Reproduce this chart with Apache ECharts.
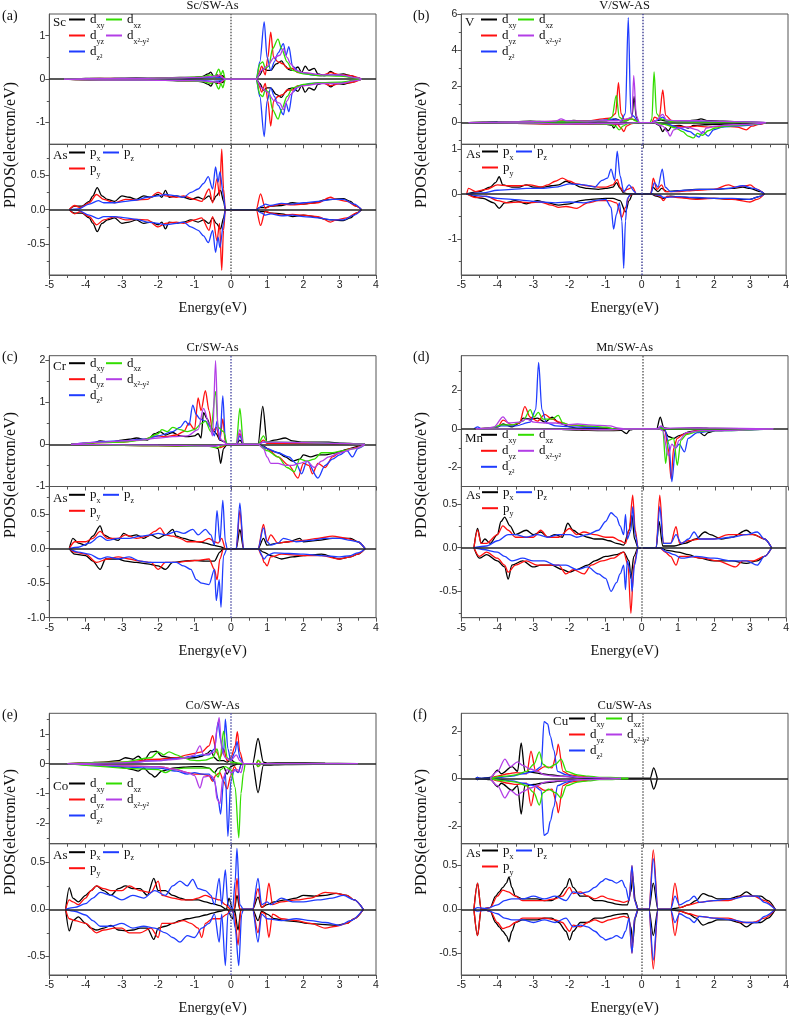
<!DOCTYPE html>
<html><head><meta charset="utf-8">
<script src="https://cdn.jsdelivr.net/npm/echarts@6.0.0/dist/echarts.min.js"></script>
<style>html,body{margin:0;padding:0;background:#fff}#c{width:792px;height:1016px}</style>
</head><body><div id="c"></div><script>
// ---------- x-axis tick labels ----------
const energyTicks = [-5,-4,-3,-2,-1,0,1,2,3,4];

// ---------- (a) Sc/SW-As (spin-symmetric: down is mirror of up) ----------
const scDxy = [[-4.6,0],[-4.2,0.01],[-3.8,0.02],[-3.4,0.01],[-3.0,0.02],[-2.6,0.03],[-2.2,0.02],[-1.8,0.03],[-1.4,0.04],[-1.0,0.04],[-0.8,0.06],[-0.62,0.12],[-0.55,0.16],[-0.47,0.06],[-0.38,0.1],[-0.3,0.05],[-0.22,0.08],[-0.15,0],[0.7,0],[0.8,0.1],[0.9,0.25],[1.0,0.2],[1.1,0.2],[1.25,0.35],[1.4,0.42],[1.5,0.3],[1.6,0.22],[1.7,0.2],[1.85,0.28],[1.95,0.15],[2.05,0.3],[2.15,0.2],[2.3,0.25],[2.4,0.12],[2.6,0.08],[2.75,0.18],[2.9,0.1],[3.1,0.12],[3.3,0.08],[3.5,0.03],[3.6,0]];
const scDyz = [[-4.6,0],[-3.5,0.02],[-2.5,0.02],[-1.5,0.03],[-0.8,0.04],[-0.55,0.06],[-0.4,0.05],[-0.3,0.1],[-0.22,0.04],[-0.15,0],[0.7,0],[0.78,0.15],[0.85,0.3],[0.95,0.1],[1.02,0.5],[1.1,1.08],[1.18,0.5],[1.3,0.4],[1.45,0.35],[1.55,0.25],[1.7,0.25],[1.85,0.15],[2.0,0.15],[2.3,0.1],[2.5,0.08],[2.75,0.15],[3.0,0.1],[3.3,0.08],[3.6,0]];
const scDxz = [[-4.6,0],[-3.5,0.02],[-2.5,0.02],[-1.5,0.03],[-0.8,0.05],[-0.55,0.1],[-0.45,0.05],[-0.33,0.23],[-0.27,0.1],[-0.22,0.2],[-0.15,0],[0.7,0],[0.8,0.35],[0.88,0.4],[0.95,0.25],[1.05,0.3],[1.15,0.7],[1.3,0.92],[1.4,0.7],[1.55,0.4],[1.7,0.2],[2.0,0.12],[2.5,0.08],[3.0,0.07],[3.5,0.02],[3.6,0]];
const scDz2 = [[-4.6,0],[-3.5,0.01],[-2.5,0.02],[-1.5,0.02],[-0.8,0.03],[-0.5,0.05],[-0.3,0.04],[-0.15,0],[0.7,0],[0.8,0.4],[0.92,1.32],[1.0,0.5],[1.1,0.2],[1.2,0.4],[1.3,0.6],[1.45,0.82],[1.52,0.55],[1.6,0.75],[1.7,0.3],[1.9,0.15],[2.2,0.1],[2.5,0.08],[2.8,0.1],[3.1,0.08],[3.4,0.03],[3.6,0]];
const scDx2y2 = [[-4.6,0],[-3.5,0.02],[-2.5,0.02],[-1.5,0.03],[-0.8,0.04],[-0.5,0.06],[-0.3,0.08],[-0.22,0.03],[-0.15,0],[0.7,0],[0.85,0.2],[1.0,0.3],[1.2,0.5],[1.35,0.55],[1.45,0.7],[1.55,0.5],[1.65,0.35],[1.8,0.2],[2.0,0.15],[2.5,0.1],[3.0,0.1],[3.5,0.03],[3.6,0]];
const scPx = [[-4.45,0],[-4.3,0.05],[-4.1,0.05],[-3.9,0.12],[-3.8,0.2],[-3.68,0.32],[-3.55,0.2],[-3.4,0.15],[-3.2,0.12],[-3.0,0.2],[-2.8,0.18],[-2.6,0.15],[-2.4,0.2],[-2.2,0.18],[-2.0,0.22],[-1.9,0.18],[-1.8,0.28],[-1.7,0.18],[-1.5,0.2],[-1.3,0.18],[-1.1,0.15],[-0.9,0.18],[-0.75,0.15],[-0.6,0.2],[-0.5,0.12],[-0.4,0.2],[-0.28,0.28],[-0.2,0.12],[-0.15,0],[0.7,0],[0.8,0.03],[0.95,0.03],[1.1,0.05],[1.4,0.06],[1.7,0.1],[2.0,0.08],[2.3,0.1],[2.6,0.14],[2.8,0.15],[3.1,0.16],[3.3,0.12],[3.45,0.05],[3.6,0]];
const scPy = [[-4.45,0],[-4.3,0.06],[-4.15,0.03],[-3.9,0.1],[-3.7,0.22],[-3.5,0.15],[-3.2,0.1],[-2.9,0.15],[-2.6,0.14],[-2.3,0.15],[-2.0,0.25],[-1.8,0.2],[-1.5,0.18],[-1.3,0.2],[-1.0,0.15],[-0.8,0.12],[-0.6,0.3],[-0.5,0.1],[-0.38,0.45],[-0.31,0.2],[-0.25,0.88],[-0.2,0.3],[-0.15,0],[0.7,0],[0.82,0.23],[0.95,0.02],[1.1,0.05],[1.4,0.08],[1.7,0.07],[2.0,0.08],[2.4,0.1],[2.75,0.18],[2.9,0.15],[3.2,0.12],[3.45,0.05],[3.6,0]];
const scPz = [[-4.45,0],[-4.2,0.01],[-3.9,0.08],[-3.65,0.13],[-3.5,0.1],[-3.2,0.1],[-2.9,0.12],[-2.6,0.14],[-2.3,0.18],[-2.0,0.2],[-1.8,0.22],[-1.5,0.2],[-1.3,0.18],[-1.1,0.25],[-0.9,0.3],[-0.75,0.38],[-0.62,0.48],[-0.5,0.3],[-0.42,0.62],[-0.35,0.4],[-0.3,0.55],[-0.2,0.2],[-0.15,0],[0.7,0],[0.85,0.05],[0.95,0.08],[1.1,0.06],[1.4,0.09],[1.7,0.08],[2.0,0.1],[2.4,0.12],[2.8,0.15],[3.1,0.15],[3.4,0.08],[3.6,0]];

// ---------- (b) V/SW-AS ----------
const vDxy = [[-4.8,0],[-4.4,0.03],[-4.0,0.05],[-3.5,0.05],[-3.1,0.08],[-2.6,0.05],[-2.2,0.08],[-1.9,0.12],[-1.6,0.08],[-1.3,0.05],[-1.0,0.1],[-0.85,0.15],[-0.75,0.2],[-0.6,0.1],[-0.45,0.1],[-0.3,0.3],[-0.24,1.45],[-0.18,0.3],[-0.1,0],[0.25,0],[0.35,0.1],[0.5,0.15],[0.6,0.1],[0.8,0.05],[1.2,0.08],[1.5,0.15],[1.6,0.2],[1.8,0.1],[2.2,0.08],[2.6,0.05],[3.0,0.03],[3.4,0]];
const vDyz = [[-4.8,0],[-4.0,0.03],[-3.0,0.05],[-2.0,0.08],[-1.5,0.1],[-1.1,0.2],[-0.9,0.25],[-0.75,0.5],[-0.67,2.2],[-0.6,0.5],[-0.5,0.15],[-0.35,0.2],[-0.2,0.15],[-0.1,0],[0.25,0],[0.32,0.3],[0.45,0.2],[0.55,1.8],[0.63,0.4],[0.8,0.1],[1.5,0.05],[2.5,0.03],[3.4,0]];
const vDxz = [[-4.8,0],[-4.0,0.02],[-3.0,0.03],[-2.0,0.05],[-1.4,0.08],[-1.0,0.1],[-0.85,0.3],[-0.73,1.5],[-0.65,0.3],[-0.5,0.1],[-0.3,0.2],[-0.2,0.1],[-0.1,0],[0.2,0],[0.25,0.2],[0.31,2.8],[0.38,0.5],[0.5,0.2],[0.6,0.15],[0.8,0.05],[1.5,0.03],[3.4,0]];
const vDz2 = [[-4.8,0],[-4.0,0.03],[-3.0,0.03],[-2.0,0.05],[-1.4,0.08],[-1.0,0.15],[-0.8,0.2],[-0.6,0.1],[-0.48,0.5],[-0.4,5.8],[-0.33,0.5],[-0.25,0.35],[-0.15,0.1],[-0.1,0],[0.25,0],[0.35,0.1],[0.55,0.3],[0.65,0.1],[1.0,0.05],[2.0,0.05],[3.4,0]];
const vDx2y2 = [[-4.8,0],[-4.0,0.03],[-3.0,0.05],[-2.4,0.08],[-2.25,0.2],[-2.1,0.1],[-1.5,0.08],[-1.0,0.1],[-0.7,0.1],[-0.55,0.15],[-0.45,0.2],[-0.3,0.3],[-0.25,2.6],[-0.18,0.4],[-0.1,0],[0.25,0],[0.35,0.1],[0.55,0.45],[0.65,0.15],[0.9,0.1],[1.5,0.1],[2.0,0.08],[2.5,0.05],[3.4,0]];
const vDxyDn = [[-4.8,0],[-4.0,-0.03],[-3.0,-0.05],[-2.0,-0.08],[-1.5,-0.08],[-1.0,-0.1],[-0.85,-0.15],[-0.8,-0.3],[-0.72,-0.1],[-0.5,-0.05],[-0.3,-0.02],[-0.1,0],[0.3,0],[0.45,-0.15],[0.55,-0.5],[0.62,-0.3],[0.7,-0.45],[0.8,-0.2],[1.0,-0.15],[1.25,-0.3],[1.4,-0.15],[1.7,-0.12],[2.0,-0.1],[2.5,-0.08],[3.0,-0.05],[3.4,0]];
const vDyzDn = [[-4.8,0],[-4.0,-0.03],[-3.0,-0.05],[-2.0,-0.08],[-1.0,-0.08],[-0.7,-0.1],[-0.6,-0.3],[-0.52,-0.5],[-0.45,-0.2],[-0.3,-0.05],[-0.1,0],[0.3,0],[0.6,-0.1],[0.9,-0.2],[1.2,-0.25],[1.5,-0.2],[1.8,-0.25],[2.2,-0.2],[2.6,-0.25],[2.85,-0.4],[3.0,-0.2],[3.2,-0.1],[3.4,0]];
const vDxzDn = [[-4.8,0],[-3.0,-0.03],[-1.5,-0.05],[-0.9,-0.1],[-0.75,-0.2],[-0.65,-0.4],[-0.55,-0.2],[-0.4,-0.05],[-0.1,0],[0.3,0],[0.6,-0.1],[0.9,-0.3],[1.1,-0.5],[1.25,-0.75],[1.4,-0.85],[1.5,-0.6],[1.65,-0.7],[1.8,-0.45],[2.0,-0.3],[2.3,-0.2],[2.6,-0.15],[3.0,-0.1],[3.4,0]];
const vDz2Dn = [[-4.8,0],[-3.0,-0.03],[-1.5,-0.05],[-0.7,-0.05],[-0.1,0],[0.3,0],[0.7,-0.1],[1.0,-0.3],[1.3,-0.5],[1.45,-0.7],[1.55,-0.8],[1.65,-0.5],[1.8,-0.75],[1.95,-0.4],[2.2,-0.25],[2.5,-0.2],[2.9,-0.15],[3.2,-0.08],[3.4,0]];
const vDx2y2Dn = [[-4.8,0],[-3.0,-0.03],[-2.2,-0.08],[-1.5,-0.05],[-0.7,-0.05],[-0.1,0],[0.3,0],[0.55,-0.2],[0.68,-0.5],[0.75,-0.75],[0.85,-0.4],[1.0,-0.3],[1.2,-0.25],[1.5,-0.4],[1.65,-0.6],[1.75,-0.3],[2.0,-0.2],[2.5,-0.12],[3.0,-0.08],[3.4,0]];
const vPx = [[-4.85,0],[-4.5,0.05],[-4.2,0.15],[-4.05,0.25],[-3.95,0.38],[-3.85,0.2],[-3.6,0.15],[-3.4,0.15],[-3.2,0.2],[-3.0,0.15],[-2.7,0.15],[-2.5,0.18],[-2.3,0.2],[-2.1,0.28],[-1.9,0.22],[-1.7,0.15],[-1.5,0.12],[-1.2,0.1],[-1.0,0.12],[-0.8,0.15],[-0.7,0.25],[-0.6,0.12],[-0.5,0.02],[-0.4,0],[0.25,0],[0.3,0.15],[0.45,0.05],[0.55,0.12],[0.7,0.05],[1.0,0.07],[1.5,0.1],[2.0,0.1],[2.5,0.12],[2.8,0.15],[3.0,0.12],[3.3,0.05],[3.4,0]];
const vPy = [[-4.85,0],[-4.8,0.12],[-4.6,0.05],[-4.3,0.1],[-4.0,0.2],[-3.7,0.18],[-3.4,0.18],[-3.1,0.2],[-2.8,0.15],[-2.6,0.2],[-2.4,0.28],[-2.2,0.35],[-2.0,0.28],[-1.8,0.22],[-1.5,0.18],[-1.2,0.15],[-1.0,0.15],[-0.8,0.2],[-0.68,0.32],[-0.6,0.15],[-0.5,0.05],[-0.4,0.1],[-0.25,0.15],[-0.15,0],[0.25,0],[0.32,0.35],[0.42,0.1],[0.55,0.2],[0.65,0.05],[1.0,0.05],[1.5,0.08],[2.0,0.1],[2.4,0.2],[2.6,0.15],[2.9,0.18],[3.0,0.2],[3.2,0.1],[3.4,0]];
const vPz = [[-4.85,0],[-4.4,0.02],[-4.0,0.08],[-3.6,0.1],[-3.2,0.12],[-2.8,0.12],[-2.4,0.15],[-2.0,0.22],[-1.6,0.2],[-1.3,0.15],[-1.1,0.3],[-0.95,0.35],[-0.85,0.55],[-0.75,0.3],[-0.68,0.95],[-0.6,0.4],[-0.5,0.05],[-0.35,0.2],[-0.2,0.05],[-0.15,0],[0.25,0],[0.35,0.25],[0.45,0.15],[0.57,0.55],[0.65,0.15],[0.8,0.05],[1.2,0.08],[1.6,0.1],[2.0,0.1],[2.4,0.12],[2.8,0.18],[3.1,0.12],[3.4,0]];
const vPxDn = [[-4.85,0],[-4.4,-0.1],[-4.1,-0.2],[-3.95,-0.32],[-3.8,-0.2],[-3.5,-0.15],[-3.2,-0.22],[-2.9,-0.15],[-2.6,-0.2],[-2.3,-0.25],[-2.0,-0.22],[-1.7,-0.15],[-1.4,-0.12],[-1.0,-0.1],[-0.8,-0.1],[-0.6,-0.15],[-0.45,-0.4],[-0.35,-0.15],[-0.25,0],[0.25,0],[0.4,-0.05],[0.6,-0.1],[0.8,-0.05],[1.2,-0.08],[1.6,-0.1],[2.0,-0.1],[2.5,-0.12],[3.0,-0.12],[3.3,-0.05],[3.4,0]];
const vPyDn = [[-4.85,0],[-4.6,-0.08],[-4.3,-0.05],[-4.0,-0.15],[-3.7,-0.2],[-3.4,-0.18],[-3.1,-0.2],[-2.8,-0.18],[-2.5,-0.25],[-2.3,-0.3],[-2.1,-0.28],[-1.8,-0.32],[-1.5,-0.2],[-1.2,-0.15],[-0.9,-0.15],[-0.7,-0.2],[-0.55,-0.52],[-0.45,-0.3],[-0.35,-0.05],[-0.25,0],[0.25,0],[0.5,-0.05],[0.6,-0.15],[0.7,-0.05],[1.0,-0.08],[1.5,-0.12],[2.0,-0.1],[2.5,-0.12],[3.0,-0.18],[3.2,-0.12],[3.4,0]];
const vPzDn = [[-4.85,0],[-4.4,-0.05],[-4.0,-0.1],[-3.6,-0.12],[-3.2,-0.15],[-2.8,-0.18],[-2.4,-0.2],[-2.0,-0.18],[-1.6,-0.2],[-1.3,-0.15],[-1.0,-0.12],[-0.85,-0.3],[-0.78,-0.78],[-0.7,-0.45],[-0.62,-0.2],[-0.55,-0.6],[-0.5,-1.65],[-0.45,-0.6],[-0.4,-0.1],[-0.3,0],[0.25,0],[0.5,-0.03],[0.6,-0.08],[1.0,-0.06],[1.5,-0.08],[2.0,-0.1],[2.5,-0.1],[3.0,-0.12],[3.3,-0.05],[3.4,0]];

// ---------- (c) Cr/SW-As ----------
const crDxy = [[-4.4,0],[-3.8,0.03],[-3.6,0.08],[-3.3,0.05],[-3.0,0.1],[-2.8,0.12],[-2.6,0.15],[-2.3,0.1],[-2.1,0.25],[-1.95,0.3],[-1.8,0.22],[-1.6,0.28],[-1.4,0.2],[-1.2,0.18],[-1.0,0.2],[-0.9,0.25],[-0.82,0.15],[-0.75,0.75],[-0.65,0.6],[-0.55,0.4],[-0.45,0.3],[-0.4,0.25],[-0.3,0.1],[-0.15,0.05],[-0.1,0],[0.15,0],[0.25,0.1],[0.35,0],[0.75,0],[0.88,0.9],[1.0,0.05],[1.2,0.1],[1.5,0.15],[1.7,0.08],[2.0,0.05],[2.7,0.05],[3.0,0.03],[3.7,0]];
const crDyz = [[-4.4,0],[-3.0,0.05],[-2.5,0.1],[-2.0,0.2],[-1.8,0.18],[-1.5,0.22],[-1.3,0.3],[-1.15,0.5],[-1.0,0.35],[-0.9,1.1],[-0.82,0.8],[-0.7,1.27],[-0.6,0.8],[-0.5,0.3],[-0.4,0.4],[-0.3,0.1],[-0.22,0.6],[-0.15,0.05],[-0.1,0],[0.15,0],[0.25,0.25],[0.35,0],[0.75,0],[0.9,0.1],[1.0,0.02],[3.7,0]];
const crDxz = [[-4.4,0],[-3.0,0.05],[-2.4,0.1],[-2.0,0.25],[-1.9,0.35],[-1.75,0.3],[-1.6,0.4],[-1.4,0.35],[-1.2,0.3],[-1.0,0.35],[-0.8,0.5],[-0.7,0.55],[-0.55,0.3],[-0.42,1.25],[-0.35,0.4],[-0.2,0.3],[-0.1,0],[0.15,0],[0.25,0.85],[0.35,0],[0.75,0],[0.9,0.2],[1.0,0.05],[3.7,0]];
const crDz2 = [[-4.4,0],[-3.0,0.08],[-2.4,0.12],[-2.0,0.2],[-1.6,0.3],[-1.4,0.4],[-1.25,0.55],[-1.15,0.45],[-1.05,0.93],[-0.95,0.7],[-0.85,0.6],[-0.7,0.55],[-0.55,0.4],[-0.45,0.2],[-0.38,0.55],[-0.3,0.1],[-0.22,1.15],[-0.15,0.1],[-0.1,0],[0.15,0],[0.25,0.2],[0.35,0],[0.75,0],[0.9,0.05],[3.7,0]];
const crDx2y2 = [[-4.4,0],[-3.6,0.05],[-3.0,0.08],[-2.5,0.1],[-2.0,0.15],[-1.6,0.18],[-1.2,0.2],[-0.9,0.35],[-0.75,0.85],[-0.6,0.5],[-0.5,0.2],[-0.42,1.98],[-0.35,0.3],[-0.25,0.1],[-0.1,0],[0.15,0],[0.25,0.35],[0.35,0],[0.75,0],[0.9,0.05],[3.7,0]];
const crDxyDn = [[-4.4,0],[-2.0,-0.03],[-1.0,-0.05],[-0.5,-0.05],[-0.35,-0.1],[-0.28,-0.45],[-0.2,-0.1],[-0.1,0],[0.75,0],[0.9,-0.05],[1.1,-0.15],[1.3,-0.2],[1.5,-0.3],[1.7,-0.4],[1.9,-0.35],[2.0,-0.25],[2.2,-0.3],[2.4,-0.25],[2.6,-0.25],[2.9,-0.2],[3.2,-0.12],[3.5,-0.05],[3.7,0]];
const crDyzDn = [[-4.4,0],[-2.0,-0.03],[-0.5,-0.05],[-0.3,-0.08],[-0.2,-0.05],[-0.1,0],[0.75,0],[1.0,-0.1],[1.3,-0.3],[1.6,-0.5],[1.85,-0.8],[2.0,-0.45],[2.15,-0.5],[2.25,-0.7],[2.4,-0.45],[2.6,-0.55],[2.8,-0.3],[3.0,-0.2],[3.3,-0.1],[3.7,0]];
const crDxzDn = [[-4.4,0],[-2.0,-0.03],[-0.6,-0.05],[-0.4,-0.08],[-0.1,0],[0.75,0],[1.0,-0.15],[1.3,-0.3],[1.55,-0.55],[1.75,-0.65],[1.9,-0.35],[2.1,-0.4],[2.3,-0.35],[2.5,-0.2],[2.8,-0.2],[3.1,-0.15],[3.4,-0.1],[3.7,0]];
const crDz2Dn = [[-4.4,0],[-2.0,-0.02],[-0.5,-0.04],[-0.1,0],[0.75,0],[1.0,-0.1],[1.3,-0.2],[1.6,-0.3],[1.8,-0.45],[1.95,-0.7],[2.1,-0.4],[2.4,-0.8],[2.6,-0.5],[2.8,-0.35],[3.0,-0.25],[3.2,-0.15],[3.35,-0.3],[3.5,-0.1],[3.7,0]];
const crDx2y2Dn = [[-4.4,0],[-2.0,-0.02],[-0.5,-0.04],[-0.1,0],[0.75,0],[0.9,-0.1],[1.0,-0.3],[1.1,-0.45],[1.3,-0.45],[1.5,-0.5],[1.7,-0.5],[1.9,-0.45],[2.1,-0.4],[2.3,-0.55],[2.5,-0.4],[2.7,-0.3],[3.0,-0.2],[3.4,-0.1],[3.7,0]];
const crPx = [[-4.45,0],[-4.35,0.15],[-4.2,0.08],[-4.0,0.05],[-3.8,0.18],[-3.6,0.33],[-3.5,0.2],[-3.3,0.15],[-3.1,0.12],[-2.95,0.22],[-2.8,0.18],[-2.6,0.2],[-2.4,0.15],[-2.2,0.2],[-2.0,0.15],[-1.8,0.2],[-1.6,0.28],[-1.5,0.18],[-1.3,0.15],[-1.1,0.12],[-0.9,0.1],[-0.7,0.08],[-0.5,0.05],[-0.3,0.03],[-0.15,0],[0.15,0],[0.25,0.28],[0.35,0],[0.75,0],[0.9,0.15],[1.0,0.05],[1.3,0.08],[1.6,0.1],[1.9,0.15],[2.0,0.1],[2.4,0.12],[2.8,0.15],[3.0,0.15],[3.3,0.15],[3.5,0.1],[3.7,0]];
const crPy = [[-4.45,0],[-4.3,0.1],[-4.0,0.1],[-3.8,0.15],[-3.6,0.25],[-3.4,0.15],[-3.1,0.15],[-2.9,0.2],[-2.6,0.15],[-2.3,0.18],[-2.1,0.25],[-1.95,0.3],[-1.8,0.2],[-1.6,0.18],[-1.4,0.15],[-1.2,0.1],[-1.0,0.1],[-0.8,0.1],[-0.6,0.15],[-0.45,0.1],[-0.35,0.08],[-0.25,0.15],[-0.15,0],[0.15,0],[0.25,0.55],[0.35,0],[0.75,0],[0.9,0.35],[1.0,0.1],[1.1,0.2],[1.3,0.08],[1.6,0.1],[2.0,0.12],[2.4,0.15],[2.8,0.18],[3.2,0.15],[3.5,0.1],[3.7,0]];
const crPz = [[-4.45,0],[-4.2,0.02],[-3.9,0.08],[-3.6,0.18],[-3.4,0.12],[-3.1,0.15],[-2.8,0.15],[-2.5,0.18],[-2.2,0.2],[-2.0,0.22],[-1.8,0.2],[-1.5,0.25],[-1.3,0.22],[-1.05,0.28],[-0.9,0.2],[-0.7,0.28],[-0.55,0.2],[-0.45,0.05],[-0.38,0.55],[-0.3,0.1],[-0.22,0.7],[-0.15,0.1],[-0.1,0],[0.15,0],[0.25,0.66],[0.35,0],[0.75,0],[0.9,0.3],[1.0,0.1],[1.1,0.05],[1.3,0.08],[1.45,0.15],[1.8,0.1],[2.2,0.12],[2.6,0.15],[3.0,0.15],[3.3,0.12],[3.5,0.1],[3.7,0]];
const crPxDn = [[-4.45,0],[-4.3,-0.08],[-4.0,-0.1],[-3.8,-0.18],[-3.6,-0.3],[-3.45,-0.15],[-3.1,-0.15],[-2.9,-0.18],[-2.6,-0.2],[-2.3,-0.22],[-2.0,-0.25],[-1.8,-0.3],[-1.6,-0.2],[-1.3,-0.18],[-1.0,-0.17],[-0.7,-0.18],[-0.45,-0.18],[-0.3,-0.05],[-0.2,0],[0.75,0],[0.9,-0.05],[1.1,-0.1],[1.4,-0.15],[1.7,-0.12],[2.0,-0.1],[2.5,-0.08],[3.0,-0.15],[3.3,-0.12],[3.5,-0.08],[3.7,0]];
const crPyDn = [[-4.45,0],[-4.3,-0.05],[-4.0,-0.08],[-3.7,-0.2],[-3.4,-0.15],[-3.1,-0.12],[-2.8,-0.15],[-2.5,-0.18],[-2.2,-0.2],[-2.0,-0.3],[-1.8,-0.2],[-1.5,-0.2],[-1.2,-0.18],[-0.9,-0.17],[-0.6,-0.15],[-0.45,-0.3],[-0.38,-0.45],[-0.3,-0.15],[-0.2,0],[0.75,0],[0.85,-0.1],[0.92,-0.2],[1.0,-0.25],[1.1,-0.12],[1.4,-0.08],[2.0,-0.1],[2.5,-0.1],[3.0,-0.15],[3.3,-0.12],[3.5,-0.08],[3.7,0]];
const crPzDn = [[-4.45,0],[-4.2,-0.05],[-3.9,-0.08],[-3.6,-0.15],[-3.4,-0.12],[-3.1,-0.15],[-2.8,-0.12],[-2.5,-0.18],[-2.2,-0.2],[-2.0,-0.2],[-1.8,-0.2],[-1.5,-0.2],[-1.3,-0.25],[-1.1,-0.3],[-0.95,-0.45],[-0.8,-0.5],[-0.6,-0.52],[-0.45,-0.3],[-0.4,-0.75],[-0.32,-0.45],[-0.27,-0.85],[-0.2,-0.1],[-0.1,0],[0.75,0],[0.92,-0.15],[1.0,-0.1],[1.2,-0.06],[2.0,-0.08],[2.5,-0.1],[3.0,-0.12],[3.3,-0.1],[3.5,-0.06],[3.7,0]];

// ---------- (d) Mn/SW-As ----------
const mnDxy = [[-4.6,0],[-4.2,0.03],[-4.0,0.1],[-3.85,0.25],[-3.6,0.1],[-3.4,0.3],[-3.3,0.55],[-3.1,0.5],[-2.9,0.55],[-2.7,0.35],[-2.5,0.6],[-2.3,0.3],[-2.0,0.1],[-1.8,0.02],[-1.5,0],[0.38,0],[0.48,0.6],[0.58,0.05],[0.8,0],[1.5,0.05],[2.0,0.02],[3.6,0]];
const mnDyz = [[-4.6,0],[-4.2,0.03],[-4.0,0.1],[-3.85,0.45],[-3.6,0.2],[-3.4,0.3],[-3.25,1.15],[-3.1,0.6],[-2.9,0.4],[-2.7,0.75],[-2.5,0.5],[-2.3,0.35],[-2.0,0.2],[-1.5,0.1],[-1.0,0.05],[-0.8,0],[0.4,0],[0.5,0.08],[0.6,0],[3.6,0]];
const mnDxz = [[-4.6,0],[-4.2,0.03],[-3.9,0.2],[-3.6,0.2],[-3.3,0.4],[-3.1,1.0],[-3.0,0.6],[-2.88,0.85],[-2.75,0.5],[-2.5,0.5],[-2.33,0.7],[-2.2,0.3],[-2.0,0.2],[-1.5,0.15],[-1.0,0.08],[-0.8,0],[0.4,0],[0.5,0.05],[0.6,0],[3.6,0]];
const mnDz2 = [[-4.65,0],[-4.55,0.1],[-4.45,0],[-4.2,0.03],[-3.9,0.15],[-3.5,0.15],[-3.1,0.35],[-2.95,1.0],[-2.87,3.45],[-2.78,1.0],[-2.65,0.3],[-2.4,0.15],[-2.0,0.1],[-1.5,0.08],[-1.0,0.05],[-0.8,0],[0.4,0],[0.5,0.1],[0.6,0],[3.6,0]];
const mnDx2y2 = [[-4.6,0],[-4.3,0.03],[-4.1,0.1],[-3.85,0.62],[-3.7,0.3],[-3.4,0.35],[-3.2,0.5],[-3.0,0.35],[-2.7,0.3],[-2.4,0.3],[-2.1,0.2],[-1.8,0.25],[-1.5,0.2],[-1.2,0.18],[-0.9,0.15],[-0.7,0.05],[-0.5,0],[0.4,0],[0.5,0.15],[0.6,0.02],[1.0,0.05],[2.0,0.03],[3.6,0]];
const mnDxyDn = [[-4.6,0],[-2.5,-0.02],[-2.0,-0.05],[-1.5,-0.08],[-1.0,-0.1],[-0.6,-0.08],[-0.45,-0.25],[-0.35,-0.05],[-0.2,0],[0.5,0],[0.6,-0.1],[0.7,-0.4],[0.85,-0.5],[1.0,-0.35],[1.3,-0.15],[1.5,-0.1],[1.7,-0.35],[1.8,-0.2],[2.0,-0.1],[2.5,-0.05],[3.6,0]];
const mnDyzDn = [[-4.6,0],[-2.0,-0.03],[-1.0,-0.05],[-0.2,0],[0.6,0],[0.7,-1.0],[0.78,-2.6],[0.85,-1.0],[0.95,-0.5],[1.1,-0.3],[1.5,-0.1],[2.0,-0.05],[3.6,0]];
const mnDxzDn = [[-4.6,0],[-2.0,-0.03],[-1.0,-0.05],[-0.2,0],[0.55,0],[0.63,-1.8],[0.7,-0.6],[0.85,-0.5],[0.95,-1.9],[1.05,-0.6],[1.2,-0.3],[1.5,-0.15],[2.0,-0.1],[3.6,0]];
const mnDz2Dn = [[-4.6,0],[-2.0,-0.02],[-1.0,-0.04],[-0.2,0],[0.6,0],[0.72,-0.8],[0.8,-2.75],[0.9,-1.0],[1.0,-0.8],[1.15,-1.2],[1.25,-0.5],[1.5,-0.2],[2.0,-0.1],[3.6,0]];
const mnDx2y2Dn = [[-4.6,0],[-2.0,-0.03],[-1.0,-0.05],[-0.2,0],[0.45,0],[0.55,-0.1],[0.7,-1.4],[0.8,-0.8],[0.9,-1.0],[1.0,-0.6],[1.2,-0.2],[1.6,-0.1],[3.6,0]];
const mnPx = [[-4.65,0],[-4.55,0.22],[-4.45,0.05],[-4.35,0.1],[-4.2,0.05],[-4.0,0.15],[-3.9,0.3],[-3.8,0.35],[-3.65,0.25],[-3.5,0.15],[-3.2,0.2],[-3.0,0.15],[-2.8,0.18],[-2.6,0.12],[-2.4,0.15],[-2.2,0.12],[-2.05,0.28],[-1.9,0.2],[-1.7,0.15],[-1.5,0.12],[-1.3,0.1],[-1.1,0.1],[-0.9,0.08],[-0.7,0.05],[-0.5,0.03],[-0.35,0.2],[-0.27,0.37],[-0.2,0.1],[-0.1,0],[0.4,0],[0.48,0.3],[0.58,0.02],[0.9,0.02],[1.2,0.05],[1.5,0.1],[1.75,0.18],[1.9,0.15],[2.2,0.1],[2.5,0.12],[2.9,0.2],[3.1,0.15],[3.4,0.1],[3.6,0]];
const mnPy = [[-4.65,0],[-4.55,0.2],[-4.45,0.05],[-4.3,0.05],[-4.0,0.15],[-3.85,0.25],[-3.7,0.2],[-3.5,0.12],[-3.3,0.12],[-3.0,0.12],[-2.8,0.2],[-2.6,0.12],[-2.3,0.12],[-2.0,0.22],[-1.8,0.15],[-1.6,0.18],[-1.3,0.15],[-1.0,0.12],[-0.8,0.12],[-0.6,0.08],[-0.45,0.05],[-0.35,0.2],[-0.25,0.6],[-0.18,0.2],[-0.1,0],[0.4,0],[0.5,0.6],[0.6,0.05],[0.8,0.05],[0.95,0.24],[1.05,0.05],[1.3,0.08],[1.6,0.1],[2.0,0.1],[2.4,0.15],[2.8,0.15],[3.1,0.15],[3.4,0.1],[3.6,0]];
const mnPz = [[-4.65,0],[-4.3,0.02],[-4.0,0.08],[-3.7,0.15],[-3.5,0.15],[-3.2,0.12],[-2.9,0.15],[-2.6,0.12],[-2.3,0.15],[-2.0,0.15],[-1.8,0.12],[-1.5,0.15],[-1.2,0.2],[-1.0,0.3],[-0.85,0.4],[-0.7,0.35],[-0.6,0.25],[-0.5,0.15],[-0.45,0.38],[-0.4,0.1],[-0.3,0.2],[-0.25,0.47],[-0.18,0.15],[-0.1,0],[0.4,0],[0.5,0.47],[0.6,0.05],[0.8,0.05],[0.95,0.15],[1.1,0.05],[1.3,0.1],[1.45,0.18],[1.6,0.1],[2.0,0.1],[2.5,0.12],[2.9,0.15],[3.2,0.18],[3.4,0.1],[3.6,0]];
const mnPxDn = [[-4.65,0],[-4.5,-0.12],[-4.3,-0.08],[-4.0,-0.15],[-3.8,-0.22],[-3.7,-0.36],[-3.6,-0.2],[-3.3,-0.15],[-3.0,-0.22],[-2.8,-0.2],[-2.5,-0.2],[-2.2,-0.25],[-2.0,-0.28],[-1.8,-0.25],[-1.5,-0.2],[-1.3,-0.15],[-1.0,-0.1],[-0.7,-0.08],[-0.5,-0.05],[-0.35,-0.15],[-0.3,-0.35],[-0.22,-0.1],[-0.1,0],[0.5,0],[0.7,-0.03],[1.0,-0.05],[1.3,-0.08],[1.6,-0.12],[2.0,-0.15],[2.5,-0.15],[2.9,-0.18],[3.2,-0.15],[3.4,-0.1],[3.6,0]];
const mnPyDn = [[-4.65,0],[-4.5,-0.1],[-4.3,-0.05],[-4.0,-0.12],[-3.8,-0.2],[-3.7,-0.28],[-3.5,-0.2],[-3.2,-0.15],[-2.9,-0.2],[-2.6,-0.2],[-2.3,-0.2],[-2.1,-0.3],[-1.9,-0.25],[-1.6,-0.3],[-1.4,-0.2],[-1.1,-0.15],[-0.8,-0.12],[-0.5,-0.05],[-0.38,-0.2],[-0.3,-0.75],[-0.22,-0.2],[-0.1,0],[0.5,0],[0.65,-0.05],[0.8,-0.1],[0.95,-0.2],[1.05,-0.1],[1.3,-0.1],[1.7,-0.12],[2.1,-0.15],[2.6,-0.22],[2.8,-0.15],[3.1,-0.15],[3.4,-0.1],[3.6,0]];
const mnPzDn = [[-4.65,0],[-4.4,-0.02],[-4.0,-0.05],[-3.8,-0.1],[-3.6,-0.15],[-3.3,-0.12],[-3.0,-0.15],[-2.7,-0.15],[-2.4,-0.2],[-2.1,-0.2],[-1.8,-0.25],[-1.5,-0.22],[-1.2,-0.3],[-1.0,-0.35],[-0.85,-0.5],[-0.7,-0.4],[-0.6,-0.3],[-0.5,-0.2],[-0.45,-0.48],[-0.4,-0.15],[-0.3,-0.3],[-0.27,-0.5],[-0.2,-0.2],[-0.1,0],[0.5,0],[0.7,-0.05],[0.9,-0.08],[1.1,-0.12],[1.5,-0.1],[2.0,-0.12],[2.5,-0.15],[2.9,-0.15],[3.2,-0.2],[3.4,-0.1],[3.6,0]];

// ---------- (e) Co/SW-As ----------
const coDxy = [[-4.5,0],[-4.0,0.03],[-3.5,0.05],[-3.1,0.1],[-2.9,0.2],[-2.7,0.15],[-2.55,0.25],[-2.4,0.1],[-2.2,0.4],[-2.05,0.42],[-1.9,0.25],[-1.6,0.2],[-1.3,0.18],[-1.0,0.2],[-0.8,0.25],[-0.65,0.35],[-0.55,0.45],[-0.45,0.2],[-0.35,0.1],[-0.2,0.1],[-0.1,0.05],[0.0,0.15],[0.1,0.05],[0.2,0],[0.6,0],[0.75,0.85],[0.9,0.05],[1.0,0.02],[1.5,0.03],[2.6,0.02],[3.5,0]];
const coDyz = [[-4.5,0],[-3.0,0.05],[-2.0,0.15],[-1.5,0.2],[-1.2,0.3],[-1.0,0.35],[-0.8,0.4],[-0.6,0.6],[-0.5,0.95],[-0.4,0.4],[-0.3,0.2],[-0.2,0.5],[-0.1,0.1],[0.0,0.2],[0.12,0.6],[0.18,1.08],[0.25,0.4],[0.35,0],[0.7,0],[0.75,0.1],[0.85,0],[3.5,0]];
const coDxz = [[-4.5,0],[-3.0,0.05],[-2.2,0.2],[-2.0,0.4],[-1.85,0.3],[-1.7,0.4],[-1.5,0.3],[-1.3,0.2],[-1.1,0.12],[-0.9,0.1],[-0.7,0.12],[-0.5,0.2],[-0.38,0.5],[-0.3,0.1],[-0.2,1.1],[-0.1,0.2],[0.0,0.05],[0.2,0.02],[0.35,0],[0.7,0],[0.75,0.12],[0.85,0],[3.5,0]];
const coDz2 = [[-4.5,0],[-3.0,0.03],[-2.0,0.1],[-1.5,0.18],[-1.0,0.25],[-0.8,0.3],[-0.6,0.3],[-0.45,0.5],[-0.35,1.4],[-0.28,0.8],[-0.2,0.3],[-0.15,1.5],[-0.08,0.5],[0.0,0.1],[0.12,0.4],[0.17,0.75],[0.25,0.2],[0.35,0],[3.5,0]];
const coDx2y2 = [[-4.5,0],[-3.0,0.03],[-2.0,0.1],[-1.5,0.15],[-1.2,0.2],[-1.0,0.3],[-0.85,0.6],[-0.75,0.3],[-0.55,0.35],[-0.45,0.4],[-0.38,1.2],[-0.32,1.55],[-0.25,0.5],[-0.15,0.2],[0.0,0.1],[0.15,0.3],[0.25,0.1],[0.35,0],[3.5,0]];
const coDxyDn = [[-4.5,0],[-3.5,-0.05],[-3.1,-0.1],[-2.9,-0.15],[-2.7,-0.2],[-2.55,-0.25],[-2.4,-0.15],[-2.2,-0.35],[-2.1,-0.45],[-1.9,-0.25],[-1.6,-0.15],[-1.3,-0.12],[-1.0,-0.1],[-0.8,-0.1],[-0.6,-0.15],[-0.45,-0.3],[-0.35,-0.15],[-0.2,-0.1],[-0.1,-0.35],[0.0,-0.1],[0.1,-0.05],[0.2,0],[0.6,0],[0.75,-0.98],[0.9,-0.05],[1.5,-0.03],[3.5,0]];
const coDyzDn = [[-4.5,0],[-2.0,-0.1],[-1.5,-0.2],[-1.2,-0.3],[-1.0,-0.35],[-0.8,-0.35],[-0.6,-0.4],[-0.5,-0.6],[-0.42,-0.4],[-0.3,-0.3],[-0.2,-0.6],[-0.1,-0.85],[0.0,-0.4],[0.1,-0.1],[0.2,-0.3],[0.3,0],[0.7,0],[0.75,-0.1],[0.85,0],[3.5,0]];
const coDxzDn = [[-4.5,0],[-2.0,-0.2],[-1.8,-0.3],[-1.6,-0.2],[-1.3,-0.15],[-1.0,-0.15],[-0.8,-0.15],[-0.6,-0.15],[-0.45,-0.3],[-0.35,-0.45],[-0.28,-0.2],[-0.15,-0.1],[0.0,-0.2],[0.12,-0.8],[0.22,-2.5],[0.28,-1.0],[0.35,-0.3],[0.4,0],[0.7,0],[0.75,-0.1],[0.85,0],[3.5,0]];
const coDz2Dn = [[-4.5,0],[-2.0,-0.15],[-1.5,-0.25],[-1.2,-0.35],[-1.0,-0.3],[-0.8,-0.35],[-0.6,-0.35],[-0.45,-0.6],[-0.35,-1.2],[-0.28,-1.7],[-0.2,-0.6],[-0.15,-0.3],[-0.08,-2.45],[0.0,-0.6],[0.1,-0.2],[0.2,-0.3],[0.3,0],[3.5,0]];
const coDx2y2Dn = [[-4.5,0],[-2.0,-0.1],[-1.5,-0.2],[-1.2,-0.3],[-1.0,-0.4],[-0.85,-0.82],[-0.75,-0.45],[-0.55,-0.4],[-0.45,-0.5],[-0.38,-1.2],[-0.3,-1.35],[-0.22,-0.5],[-0.1,-0.2],[0.0,-0.3],[0.18,-0.2],[0.28,-0.3],[0.35,0],[3.5,0]];
const coPx = [[-4.55,0],[-4.45,0.23],[-4.35,0.12],[-4.2,0.08],[-4.0,0.15],[-3.85,0.2],[-3.7,0.25],[-3.5,0.2],[-3.3,0.15],[-3.1,0.22],[-2.9,0.25],[-2.7,0.22],[-2.5,0.22],[-2.3,0.15],[-2.12,0.33],[-2.0,0.2],[-1.8,0.2],[-1.6,0.15],[-1.4,0.12],[-1.2,0.1],[-0.9,0.1],[-0.7,0.08],[-0.5,0.06],[-0.3,0.04],[-0.12,0],[-0.05,0.12],[0.05,0],[0.1,0],[0.17,0.15],[0.25,0],[0.6,0],[0.75,0.13],[0.85,0.02],[1.0,0.05],[1.2,0.08],[1.5,0.1],[1.8,0.12],[2.0,0.15],[2.3,0.14],[2.6,0.15],[2.9,0.17],[3.2,0.15],[3.4,0.1],[3.65,0]];
const coPy = [[-4.55,0],[-4.45,0.1],[-4.35,0.08],[-4.2,0.05],[-4.0,0.12],[-3.85,0.2],[-3.7,0.25],[-3.5,0.22],[-3.3,0.2],[-3.0,0.2],[-2.8,0.25],[-2.5,0.2],[-2.2,0.18],[-2.0,0.3],[-1.9,0.15],[-1.6,0.12],[-1.3,0.1],[-1.1,0.1],[-0.9,0.12],[-0.7,0.15],[-0.5,0.12],[-0.3,0.1],[-0.15,0.05],[0.0,0],[0.1,0],[0.17,0.33],[0.25,0],[0.6,0],[0.75,0.22],[0.85,0.02],[0.95,0.05],[1.05,0.28],[1.15,0.05],[1.4,0.08],[1.8,0.1],[2.2,0.12],[2.6,0.18],[2.9,0.17],[3.2,0.15],[3.4,0.1],[3.65,0]];
const coPz = [[-4.55,0],[-4.3,0.02],[-4.0,0.06],[-3.8,0.12],[-3.6,0.18],[-3.3,0.15],[-3.0,0.1],[-2.7,0.15],[-2.4,0.12],[-2.1,0.2],[-1.8,0.15],[-1.6,0.25],[-1.4,0.3],[-1.2,0.25],[-1.05,0.32],[-0.9,0.22],[-0.7,0.2],[-0.55,0.15],[-0.45,0.05],[-0.32,0.33],[-0.25,0.05],[-0.15,0.42],[-0.08,0.05],[0.05,0],[0.12,0.3],[0.17,0.65],[0.25,0.05],[0.35,0],[0.6,0],[0.75,0.33],[0.85,0.05],[1.0,0.08],[1.1,0.05],[1.4,0.12],[1.7,0.08],[2.0,0.08],[2.4,0.1],[2.8,0.12],[3.1,0.15],[3.4,0.1],[3.65,0]];
const coPxDn = [[-4.55,0],[-4.45,-0.23],[-4.35,-0.12],[-4.2,-0.08],[-4.0,-0.15],[-3.85,-0.2],[-3.7,-0.22],[-3.5,-0.2],[-3.3,-0.17],[-3.1,-0.22],[-2.9,-0.23],[-2.7,-0.22],[-2.5,-0.2],[-2.3,-0.2],[-2.12,-0.32],[-2.0,-0.2],[-1.8,-0.18],[-1.6,-0.15],[-1.4,-0.12],[-1.2,-0.1],[-0.9,-0.08],[-0.7,-0.06],[-0.5,-0.04],[-0.3,-0.02],[-0.1,0],[0.05,-0.1],[0.1,0],[0.2,-0.22],[0.28,0],[0.6,0],[0.75,-0.12],[0.85,-0.02],[1.0,-0.05],[1.2,-0.1],[1.5,-0.12],[1.8,-0.13],[2.1,-0.15],[2.5,-0.16],[2.9,-0.17],[3.2,-0.15],[3.4,-0.1],[3.65,0]];
const coPyDn = [[-4.55,0],[-4.45,-0.1],[-4.3,-0.12],[-4.0,-0.15],[-3.7,-0.25],[-3.5,-0.22],[-3.2,-0.2],[-3.0,-0.2],[-2.8,-0.25],[-2.5,-0.25],[-2.2,-0.2],[-2.0,-0.3],[-1.9,-0.15],[-1.6,-0.15],[-1.3,-0.12],[-1.1,-0.15],[-0.9,-0.2],[-0.8,-0.3],[-0.7,-0.15],[-0.5,-0.1],[-0.3,-0.1],[-0.1,-0.05],[0.0,0],[0.1,-0.05],[0.2,-0.38],[0.28,0],[0.6,0],[0.75,-0.25],[0.85,-0.03],[0.95,-0.05],[1.05,-0.3],[1.15,-0.05],[1.4,-0.1],[1.8,-0.12],[2.2,-0.15],[2.6,-0.2],[2.9,-0.18],[3.2,-0.15],[3.4,-0.1],[3.65,0]];
const coPzDn = [[-4.55,0],[-4.3,-0.02],[-4.0,-0.06],[-3.8,-0.12],[-3.6,-0.18],[-3.3,-0.18],[-3.0,-0.15],[-2.7,-0.2],[-2.4,-0.18],[-2.1,-0.2],[-1.8,-0.25],[-1.6,-0.3],[-1.4,-0.35],[-1.2,-0.28],[-1.0,-0.3],[-0.8,-0.2],[-0.6,-0.15],[-0.45,-0.05],[-0.32,-0.35],[-0.25,-0.05],[-0.15,-0.6],[-0.08,-0.05],[0.05,0],[0.12,-0.2],[0.22,-0.6],[0.3,-0.05],[0.35,0],[0.6,0],[0.75,-0.35],[0.85,-0.05],[1.0,-0.1],[1.4,-0.12],[1.8,-0.1],[2.2,-0.12],[2.6,-0.14],[3.0,-0.17],[3.3,-0.12],[3.65,0]];

// ---------- (f) Cu/SW-As (spin-symmetric: down is mirror of up) ----------
const cuDxy = [[-4.6,0],[-4.55,0.05],[-4.5,0],[-4.2,0.05],[-4.0,0.35],[-3.9,0.2],[-3.6,0.5],[-3.45,0.3],[-3.35,1.5],[-3.25,0.3],[-3.0,0.25],[-2.8,0.2],[-2.5,0.15],[-2.2,0.1],[-1.9,0.05],[-1.5,0.02],[-1.0,0.01],[-0.8,0],[0.2,0],[0.3,0.45],[0.4,0]];
const cuDyz = [[-4.2,0],[-4.0,0.1],[-3.7,0.2],[-3.5,0.25],[-3.2,0.2],[-3.08,1.15],[-2.95,0.3],[-2.7,0.5],[-2.5,0.45],[-2.38,1.0],[-2.33,1.45],[-2.2,0.3],[-2.0,0.15],[-1.7,0.1],[-1.3,0.03],[-1.0,0]];
const cuDxz = [[-4.2,0],[-3.8,0.1],[-3.5,0.15],[-3.2,0.3],[-3.0,0.6],[-2.85,1.12],[-2.75,0.6],[-2.6,0.45],[-2.4,0.6],[-2.25,0.82],[-2.1,0.3],[-1.8,0.15],[-1.5,0.1],[-1.2,0.05],[-0.9,0.05],[-0.6,0.02],[-0.4,0]];
const cuDz2 = [[-4.6,0],[-4.55,0.05],[-4.5,0],[-4.2,0.02],[-3.9,0.05],[-3.6,0.1],[-3.3,0.2],[-3.0,0.3],[-2.8,0.5],[-2.72,2.4],[-2.62,2.3],[-2.55,1.8],[-2.45,1.2],[-2.35,0.3],[-2.1,0.15],[-1.8,0.05],[-1.5,0.02],[-1.2,0]];
const cuDx2y2 = [[-4.2,0],[-4.0,0.3],[-3.8,0.82],[-3.65,0.5],[-3.45,0.7],[-3.3,0.55],[-3.1,0.4],[-2.9,0.3],[-2.7,0.15],[-2.4,0.1],[-2.1,0.08],[-1.8,0.05],[-1.5,0.05],[-1.0,0.03],[-0.6,0]];
const cuPx = [[-4.65,0],[-4.55,0.3],[-4.45,0],[-4.2,0.02],[-4.05,0.15],[-3.95,0.2],[-3.85,0.25],[-3.75,0.3],[-3.68,0.37],[-3.6,0.25],[-3.5,0.15],[-3.3,0.12],[-3.1,0.12],[-2.9,0.12],[-2.7,0.1],[-2.5,0.1],[-2.3,0.15],[-2.1,0.25],[-2.0,0.35],[-1.9,0.25],[-1.7,0.15],[-1.5,0.15],[-1.3,0.1],[-1.1,0.1],[-0.9,0.08],[-0.7,0.06],[-0.5,0.05],[-0.4,0.05],[-0.3,0.2],[-0.25,0.38],[-0.18,0.1],[-0.1,0],[0.2,0],[0.32,0.3],[0.45,0],[0.8,0],[0.9,0.01],[1.05,0.02],[1.3,0.05],[1.5,0.1],[1.7,0.18],[1.9,0.15],[2.1,0.12],[2.4,0.12],[2.7,0.15],[2.9,0.2],[3.1,0.15],[3.3,0.15],[3.5,0.1],[3.7,0]];
const cuPy = [[-4.65,0],[-4.55,0.3],[-4.45,0],[-4.2,0.02],[-4.0,0.15],[-3.85,0.22],[-3.7,0.2],[-3.5,0.15],[-3.3,0.1],[-3.0,0.1],[-2.7,0.1],[-2.4,0.12],[-2.2,0.15],[-2.0,0.25],[-1.9,0.18],[-1.7,0.2],[-1.5,0.15],[-1.3,0.12],[-1.1,0.15],[-0.9,0.12],[-0.7,0.1],[-0.5,0.08],[-0.35,0.1],[-0.27,0.5],[-0.2,0.1],[-0.1,0],[0.2,0],[0.32,0.68],[0.45,0],[0.8,0],[0.92,0.3],[1.05,0.02],[1.3,0.05],[1.6,0.08],[2.0,0.1],[2.4,0.1],[2.8,0.15],[3.1,0.15],[3.4,0.1],[3.7,0]];
const cuPz = [[-4.65,0],[-4.55,0.02],[-4.3,0.01],[-4.0,0.05],[-3.8,0.1],[-3.6,0.12],[-3.3,0.12],[-3.0,0.15],[-2.7,0.12],[-2.4,0.15],[-2.1,0.1],[-1.9,0.2],[-1.7,0.18],[-1.5,0.2],[-1.3,0.25],[-1.1,0.32],[-1.0,0.35],[-0.85,0.33],[-0.7,0.3],[-0.55,0.33],[-0.45,0.25],[-0.35,0.1],[-0.27,0.5],[-0.2,0.1],[-0.1,0],[0.2,0],[0.32,0.58],[0.45,0],[0.8,0],[0.92,0.15],[1.05,0.05],[1.3,0.1],[1.45,0.15],[1.6,0.08],[2.0,0.1],[2.5,0.12],[2.9,0.15],[3.2,0.15],[3.4,0.08],[3.7,0]];

// ---------- styles / layout ----------
const SERIF = "'Liberation Serif','Times New Roman',serif";
const SANS = "'Liberation Sans',Arial,sans-serif";
const COLOR = {dxy:'#000000', dyz:'#ff1010', dz2:'#1f3cff', dxz:'#33dd00', dx2y2:'#b33ee6', px:'#000000', py:'#ff1010', pz:'#1f3cff'};
const LABEL = {dxy:'{m|d}{s|xy}', dyz:'{m|d}{s|yz}', dz2:'{m|d}{s|z²}', dxz:'{m|d}{s|xz}', dx2y2:'{m|d}{s|x²-y²}', px:'{m|p}{s|x}', py:'{m|p}{s|y}', pz:'{m|p}{s|z}'};
const RICH = {m:{fontFamily:SERIF, fontSize:13, lineHeight:20, color:'#111'}, s:{fontFamily:SERIF, fontSize:8, lineHeight:10, verticalAlign:'bottom', color:'#111'}};
const D_ORDER = ['dxy','dyz','dz2','dxz','dx2y2'];
const P_ORDER = ['px','py','pz'];
const D_LEG = {dxy:[16,0], dyz:[16,1], dz2:[16,2], dxz:[53,0], dx2y2:[53,1]};
const P_LEG = {px:[16,0], pz:[50,0], py:[16,1]};
const COLS = [49.3, 461.3], WIDTH = 326.7;
const ROWS = [[14,144.3,275],[355.7,486.5,617.7],[713.3,843.7,975]];
const mirror = a => a.map(([x, y]) => [x, -y]);

const panels = [
 {key:'a', tag:'(a)', title:'Sc/SW-As', metal:'Sc', col:0, row:0, dot:'#666',
  up:[-1.5,1.5,[-1,0,1],[-0.5,0.5],0], lo:[-0.95,0.95,[-0.5,0,0.5],[-0.75,-0.25,0.25,0.75],1],
  legUp:[53,23], legLo:[53,156],
  d:{dxy:[scDxy,mirror(scDxy)], dyz:[scDyz,mirror(scDyz)], dz2:[scDz2,mirror(scDz2)], dxz:[scDxz,mirror(scDxz)], dx2y2:[scDx2y2,mirror(scDx2y2)]},
  p:{px:[scPx,mirror(scPx)], py:[scPy,mirror(scPy)], pz:[scPz,mirror(scPz)]}},
 {key:'b', tag:'(b)', title:'V/SW-AS', metal:'V', col:1, row:0, dot:'#4a4a9a',
  up:[-1.2,6,[0,2,4,6],[-1,1,3,5],0], lo:[-1.8,1.1,[-1,0,1],[-1.5,-0.5,0.5],0],
  legUp:[465,23], legLo:[466,155],
  d:{dxy:[vDxy,vDxyDn], dyz:[vDyz,vDyzDn], dz2:[vDz2,vDz2Dn], dxz:[vDxz,vDxzDn], dx2y2:[vDx2y2,vDx2y2Dn]},
  p:{px:[vPx,vPxDn], py:[vPy,vPyDn], pz:[vPz,vPzDn]}},
 {key:'c', tag:'(c)', title:'Cr/SW-As', metal:'Cr', col:0, row:1, dot:'#5a5aaa',
  up:[-1,2.1,[-1,0,1,2],[-0.5,0.5,1.5],0], lo:[-1,0.9,[-1,-0.5,0,0.5],[-0.75,-0.25,0.25,0.75],1],
  legUp:[53,366.7], legLo:[53,498.3],
  d:{dxy:[crDxy,crDxyDn], dyz:[crDyz,crDyzDn], dz2:[crDz2,crDz2Dn], dxz:[crDxz,crDxzDn], dx2y2:[crDx2y2,crDx2y2Dn]},
  p:{px:[crPx,crPxDn], py:[crPy,crPyDn], pz:[crPz,crPzDn]}},
 {key:'d', tag:'(d)', title:'Mn/SW-As', metal:'Mn', col:1, row:1, dot:'#666',
  up:[-3,3.8,[-2,0,2],[-1,1,3],0], lo:[-0.8,0.7,[-0.5,0,0.5],[-0.75,-0.25,0.25],1],
  legUp:[465,438.3], legLo:[466,495.7],
  d:{dxy:[mnDxy,mnDxyDn], dyz:[mnDyz,mnDyzDn], dz2:[mnDz2,mnDz2Dn], dxz:[mnDxz,mnDxzDn], dx2y2:[mnDx2y2,mnDx2y2Dn]},
  p:{px:[mnPx,mnPxDn], py:[mnPy,mnPyDn], pz:[mnPz,mnPzDn]}},
 {key:'e', tag:'(e)', title:'Co/SW-As', metal:'Co', col:0, row:2, dot:'#5a5aaa',
  up:[-2.7,1.7,[-2,-1,0,1],[-2.5,-1.5,-0.5,0.5,1.5],0], lo:[-0.7,0.7,[-0.5,0,0.5],[-0.25,0.25],1],
  legUp:[53,787], legLo:[53,855.7],
  d:{dxy:[coDxy,coDxyDn], dyz:[coDyz,coDyzDn], dz2:[coDz2,coDz2Dn], dxz:[coDxz,coDxzDn], dx2y2:[coDx2y2,coDx2y2Dn]},
  p:{px:[coPx,coPxDn], py:[coPy,coPyDn], pz:[coPz,coPzDn]}},
 {key:'f', tag:'(f)', title:'Cu/SW-As', metal:'Cu', col:1, row:2, dot:'#666',
  up:[-2.75,2.75,[-2,0,2],[-1,1],0], lo:[-0.75,0.75,[-0.5,0,0.5],[-0.25,0.25],1],
  legUp:[553,722], legLo:[466,854],
  d:{dxy:[cuDxy,mirror(cuDxy)], dyz:[cuDyz,mirror(cuDyz)], dz2:[cuDz2,mirror(cuDz2)], dxz:[cuDxz,mirror(cuDxz)], dx2y2:[cuDx2y2,mirror(cuDx2y2)]},
  p:{px:[cuPx,mirror(cuPx)], py:[cuPy,mirror(cuPy)], pz:[cuPz,mirror(cuPz)]}}
];

const option = {animation:false, backgroundColor:'#ffffff', grid:[], xAxis:[], yAxis:[], series:[], legend:[], graphic:[]};

function text(x, y, str, size, align, rot) {
  option.graphic.push({type:'text', x, y, rotation: rot || 0, silent:true,
    style:{text:str, font: size + 'px ' + SERIF, fill:'#111', align: align || 'left', verticalAlign:'middle'}});
}

function addSub(p, top, height, spec, showX, orbs, order, legPos, legAnchor, label) {
  const [yMin, yMax, major, minor, dec] = spec;
  const gi = option.grid.length;
  const yi = option.yAxis.length;
  const left = COLS[p.col];
  option.grid.push({left, top, width: WIDTH, height, show:true, borderColor:'#555', borderWidth:1, backgroundColor:'transparent'});
  option.xAxis.push({type:'value', gridIndex:gi, min:-5, max:4, interval:1,
    axisLine:{show:true, onZero:false, lineStyle:{color:'#555', width:1}},
    axisTick:{show:true, length:4, lineStyle:{color:'#555'}},
    minorTick:{show:true, splitNumber:2, length:3, lineStyle:{color:'#555'}},
    splitLine:{show:false}, minorSplitLine:{show:false},
    axisLabel:{show:showX, customValues: energyTicks, fontFamily:SANS, fontSize:10.5, color:'#222', margin:5}});
  option.yAxis.push({type:'value', gridIndex:gi, min:yMin, max:yMax, position:'left',
    axisLine:{show:true, onZero:false, lineStyle:{color:'#555', width:1}},
    axisTick:{show:true, length:4, customValues:major, lineStyle:{color:'#555'}},
    axisLabel:{customValues:major, formatter: v => Number(v).toFixed(dec), fontFamily:SANS, fontSize:10.5, color:'#222', margin:4},
    splitLine:{show:false}});
  option.yAxis.push({type:'value', gridIndex:gi, min:yMin, max:yMax, position:'left',
    axisLine:{show:false, onZero:false}, axisLabel:{show:false}, splitLine:{show:false},
    axisTick:{show:true, length:2.5, customValues:minor, lineStyle:{color:'#555'}}});
  order.forEach((orb, k) => {
    const name = p.key + ' ' + orb;
    orbs[orb].forEach((data, s) => {
      const ser = {type:'line', name, xAxisIndex:gi, yAxisIndex:yi, data, symbol:'none', showSymbol:false,
        smooth:0.3, smoothMonotone:'x', clip:true, z: 2 + k,
        lineStyle:{width:1.3, color:COLOR[orb]}, itemStyle:{color:COLOR[orb]}, emphasis:{disabled:true}};
      if (k === order.length - 1 && s === 1) {
        ser.markLine = {silent:true, symbol:['none','none'], label:{show:false}, animation:false,
          data:[{yAxis:0, lineStyle:{color:'#222', width:1.6, type:'solid'}},
                {xAxis:0, lineStyle:{color:p.dot, width:1.5, type:'dotted'}}]};
      }
      option.series.push(ser);
    });
    const [dx, row] = legPos[orb];
    option.legend.push({data:[name], left: legAnchor[0] + dx, top: legAnchor[1] + row * 16 - 10,
      icon:'rect', itemWidth:16, itemHeight:2, padding:0, itemGap:0, selectedMode:false,
      formatter: () => LABEL[orb], textStyle:{color:'#111', rich:RICH}});
  });
  text(legAnchor[0], legAnchor[1], label, 13, 'left');
}

panels.forEach(p => {
  const [t, dv, b] = ROWS[p.row];
  const left = COLS[p.col];
  addSub(p, t, dv - t, p.up, false, p.d, D_ORDER, D_LEG, p.legUp, p.metal);
  addSub(p, dv, b - dv, p.lo, true, p.p, P_ORDER, P_LEG, p.legLo, 'As');
  const cx = left + WIDTH / 2;
  text(cx, t - 8, p.title, 12.5, 'center');
  text(p.col === 0 ? 2 : 413, t + 2, p.tag, 14, 'left');
  text(cx, b + 33, 'Energy(eV)', 14.5, 'center');
  text(p.col === 0 ? 11 : 422, [145, 475, 832][p.row], 'PDOS(electron/eV)', 16, 'center', Math.PI / 2);
});

const chart = echarts.init(document.getElementById('c'), null, {renderer:'canvas'});
chart.setOption(option);
</script></body></html>
